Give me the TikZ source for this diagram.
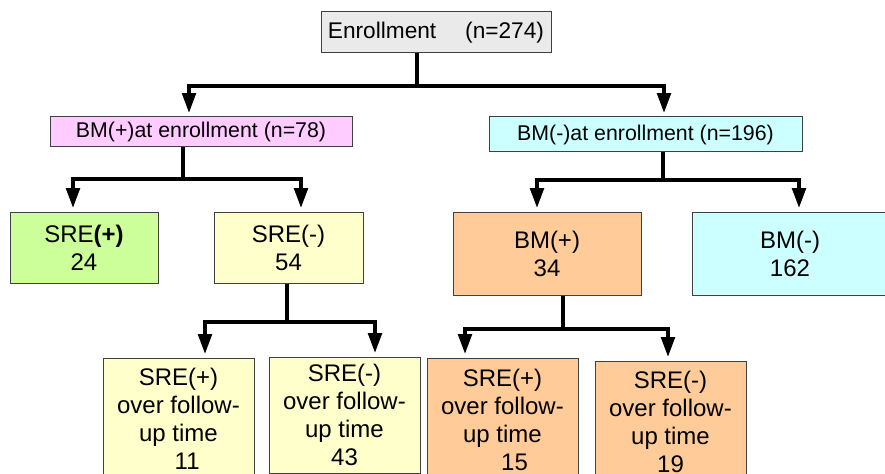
\documentclass[tikz,border=0pt]{standalone}
\usepackage{fontspec}
\setmainfont{Liberation Sans}
\usepackage{xcolor}
\usepackage{tikz}
\usetikzlibrary{arrows.meta, positioning, calc}
\definecolor{enrollgray}{HTML}{EAEAEA}
\definecolor{bmpink}{HTML}{FFCCFF}
\definecolor{bmcyan}{HTML}{CCFFFF}
\definecolor{sregreen}{HTML}{CCFF99}
\definecolor{sreyellow}{HTML}{FFFFCC}
\definecolor{bmorange}{HTML}{FFCC99}

\begin{document}
\begin{tikzpicture}[
    x=0.75pt, y=-0.75pt,
    boxnode/.style={rectangle, draw=black!75, line width=0.75pt, align=center, inner sep=2pt, font=\fontsize{18}{21}\selectfont},
    headnode/.style={boxnode, font=\fontsize{16}{19}\selectfont},
    arrow/.style={-{Triangle[length=15pt,width=10pt]}, line width=3pt, shorten >=2.5pt}
]
\useasboundingbox (0,0) rectangle (885,474);
\clip (0,0) rectangle (885,474);

\node[headnode, fill=enrollgray, font=\fontsize{17}{20}\selectfont, minimum width=172.5pt, minimum height=30.75pt] (enroll) at (436,32.5) {Enrollment\quad\ (n=274)};
\node[headnode, fill=bmpink, minimum width=226.5pt, minimum height=22.5pt] (bmpos) at (201,132) {BM(+)at enrollment (n=78)};
\node[headnode, fill=bmcyan, minimum width=234.75pt, minimum height=26.25pt] (bmneg) at (645.5,134.5) {BM(-)at enrollment (n=196)};

\node[boxnode, fill=sregreen, minimum width=111pt, minimum height=53.25pt] (srepos) at (84,247.5) {SRE\textbf{(+)}\\24};
\node[boxnode, fill=sreyellow, minimum width=111.75pt, minimum height=53.25pt] (sreneg) at (288.5,247.5) {SRE(-)\\54};
\node[boxnode, fill=bmorange, minimum width=141pt, minimum height=62.25pt] (bmplus) at (547,253.5) {BM(+)\\34};
\node[boxnode, fill=bmcyan, minimum width=147pt, minimum height=62.25pt] (bmminus) at (790,253.5) {BM(-)\\162};

\node[boxnode, fill=sreyellow, minimum width=113.25pt, minimum height=91.5pt] (fu1) at (178.5,419) {SRE(+)\\over follow-\\up time\\\hspace{13pt}11};
\node[boxnode, fill=sreyellow, minimum width=113.25pt, minimum height=87pt] (fu2) at (344.5,415) {SRE(-)\\over follow-\\up time\\43};
\node[boxnode, fill=bmorange, minimum width=113.25pt, minimum height=93pt] (fu3) at (502.5,420) {SRE(+)\\over follow-\\up time\\\hspace{18pt}15};
\node[boxnode, fill=bmorange, minimum width=113.25pt, minimum height=91.5pt] (fu4) at (670.5,422) {SRE(-)\\over follow-\\up time\\19};

\draw[arrow] ($(enroll.south)+(-19,0)$) -- ++(0,33) -| ($(bmpos.north)+(-12,0)$);
\draw[arrow] ($(enroll.south)+(-19,0)$) -- ++(0,33) -| ($(bmneg.north)+(18.5,0)$);
\draw[arrow] ($(bmpos.south)+(-18,0)$) -- ++(0,32) -| ($(srepos.north)+(-11,0)$);
\draw[arrow] ($(bmpos.south)+(-18,0)$) -- ++(0,32) -| ($(sreneg.north)+(12.5,0)$);
\draw[arrow] ($(bmneg.south)+(17.5,0)$) -- ++(0,28) -| ($(bmplus.north)+(-10,0)$);
\draw[arrow] ($(bmneg.south)+(17.5,0)$) -- ++(0,28) -| ($(bmminus.north)+(9,0)$);
\draw[arrow] ($(sreneg.south)+(-1.5,0)$) -- ++(0,38) -| ($(fu1.north)+(26.5,0)$);
\draw[arrow] ($(sreneg.south)+(-1.5,0)$) -- ++(0,38) -| ($(fu2.north)+(30.5,0)$);
\draw[arrow] ($(bmplus.south)+(16,0)$) -- ++(0,33) -| ($(fu3.north)+(-37.5,0)$);
\draw[arrow] ($(bmplus.south)+(16,0)$) -- ++(0,33) -| ($(fu4.north)+(-2.5,0)$);

\end{tikzpicture}
\end{document}
